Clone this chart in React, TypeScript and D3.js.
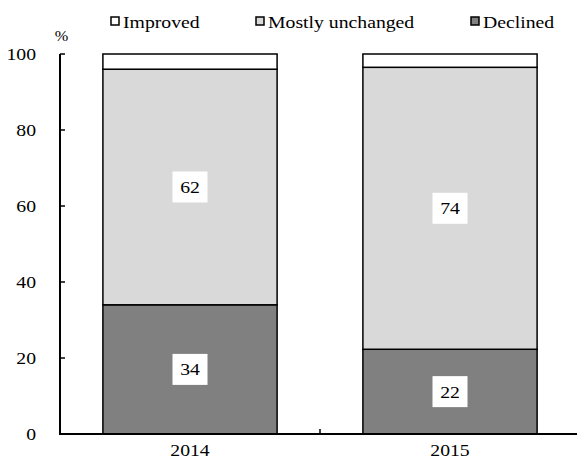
import React from "react";
import * as d3 from "d3";

const years = ["2014", "2015"];
const seriesNames = ["Declined", "Mostly unchanged", "Improved"];
const declined = [34, 22.3];
const unchanged = [62, 74.2];
const improved = [4, 3.5];
const labelDeclined = [34, 22];
const labelUnchanged = [62, 74];
const yTicks = [0, 20, 40, 60, 80, 100];

const W = 577;
const H = 459;
const FONT = "'Liberation Serif', 'Times New Roman', serif";
const SX = 1.16;
const colors: Record<string, string> = {
  Declined: "#808080",
  "Mostly unchanged": "#d9d9d9",
  Improved: "#ffffff",
};

function T({ x, y, anchor = "start", size = 17, children }: any) {
  return (
    <g transform={`translate(${x},${y}) scale(${SX},1)`}>
      <text textAnchor={anchor} fontFamily={FONT} fontSize={size} fill="#000">
        {children}
      </text>
    </g>
  );
}

export default function App() {
  const x = d3.scaleBand<string>().domain(years).range([60, 580]).paddingInner(0.33).paddingOuter(0.165);
  const y = d3.scaleLinear().domain([0, 100]).range([434, 54]);

  const table = years.map((yr, i) => ({
    year: yr,
    Declined: declined[i],
    "Mostly unchanged": unchanged[i],
    Improved: improved[i],
  }));
  const stack = d3.stack<any>().keys(seriesNames)(table);

  const legendItems = [
    { name: "Improved", x: 111 },
    { name: "Mostly unchanged", x: 256 },
    { name: "Declined", x: 471 },
  ];

  const labels = [
    ...years.map((yr, i) => ({ yr, v: labelDeclined[i], mid: (0 + declined[i]) / 2 })),
    ...years.map((yr, i) => ({ yr, v: labelUnchanged[i], mid: declined[i] + unchanged[i] / 2 })),
  ];

  return (
    <svg width={W} height={H} style={{ position: "absolute", left: 0, top: 0 }}>
      <rect width={W} height={H} fill="#fff" />
      {stack.map((s) =>
        s.map((d: any, i: number) => (
          <rect
            key={s.key + i}
            x={x(years[i])}
            y={y(d[1])}
            width={x.bandwidth()}
            height={y(d[0]) - y(d[1])}
            fill={colors[s.key]}
            stroke="#000"
            strokeWidth={1.5}
          />
        ))
      )}
      {labels.map((l, i) => {
        const cx = (x(l.yr) as number) + x.bandwidth() / 2;
        const cy = y(l.mid);
        return (
          <g key={"lab" + i}>
            <rect x={cx - 17.5} y={cy - 15.5} width={35} height={31} fill="#fff" />
            <T x={cx} y={cy + 6} anchor="middle">{l.v}</T>
          </g>
        );
      })}
      {/* axes */}
      <line x1={60} x2={60} y1={y(100)} y2={y(0)} stroke="#000" strokeWidth={2} />
      <line x1={59} x2={580} y1={y(0)} y2={y(0)} stroke="#000" strokeWidth={2} />
      {yTicks.map((t) => (
        <g key={"yt" + t}>
          <line x1={60} x2={65} y1={y(t)} y2={y(t)} stroke="#000" strokeWidth={1.5} />
          <T x={36} y={y(t) + 6} anchor="end">{t}</T>
        </g>
      ))}
      {[60, 320, 580].map((v) => (
        <line key={"xt" + v} x1={v} x2={v} y1={y(0)} y2={y(0) - 5} stroke="#000" strokeWidth={1.5} />
      ))}
      {years.map((yr) => (
        <T key={"xl" + yr} x={(x(yr) as number) + x.bandwidth() / 2} y={456} anchor="middle">{yr}</T>
      ))}
      <T x={61.5} y={41} anchor="middle" size={14}>%</T>
      {legendItems.map((it) => (
        <g key={it.name}>
          <rect x={it.x} y={17} width={8} height={8} fill={colors[it.name]} stroke="#000" strokeWidth={1.5} />
          <T x={it.x + 12} y={27.5}>{it.name}</T>
        </g>
      ))}
    </svg>
  );
}
